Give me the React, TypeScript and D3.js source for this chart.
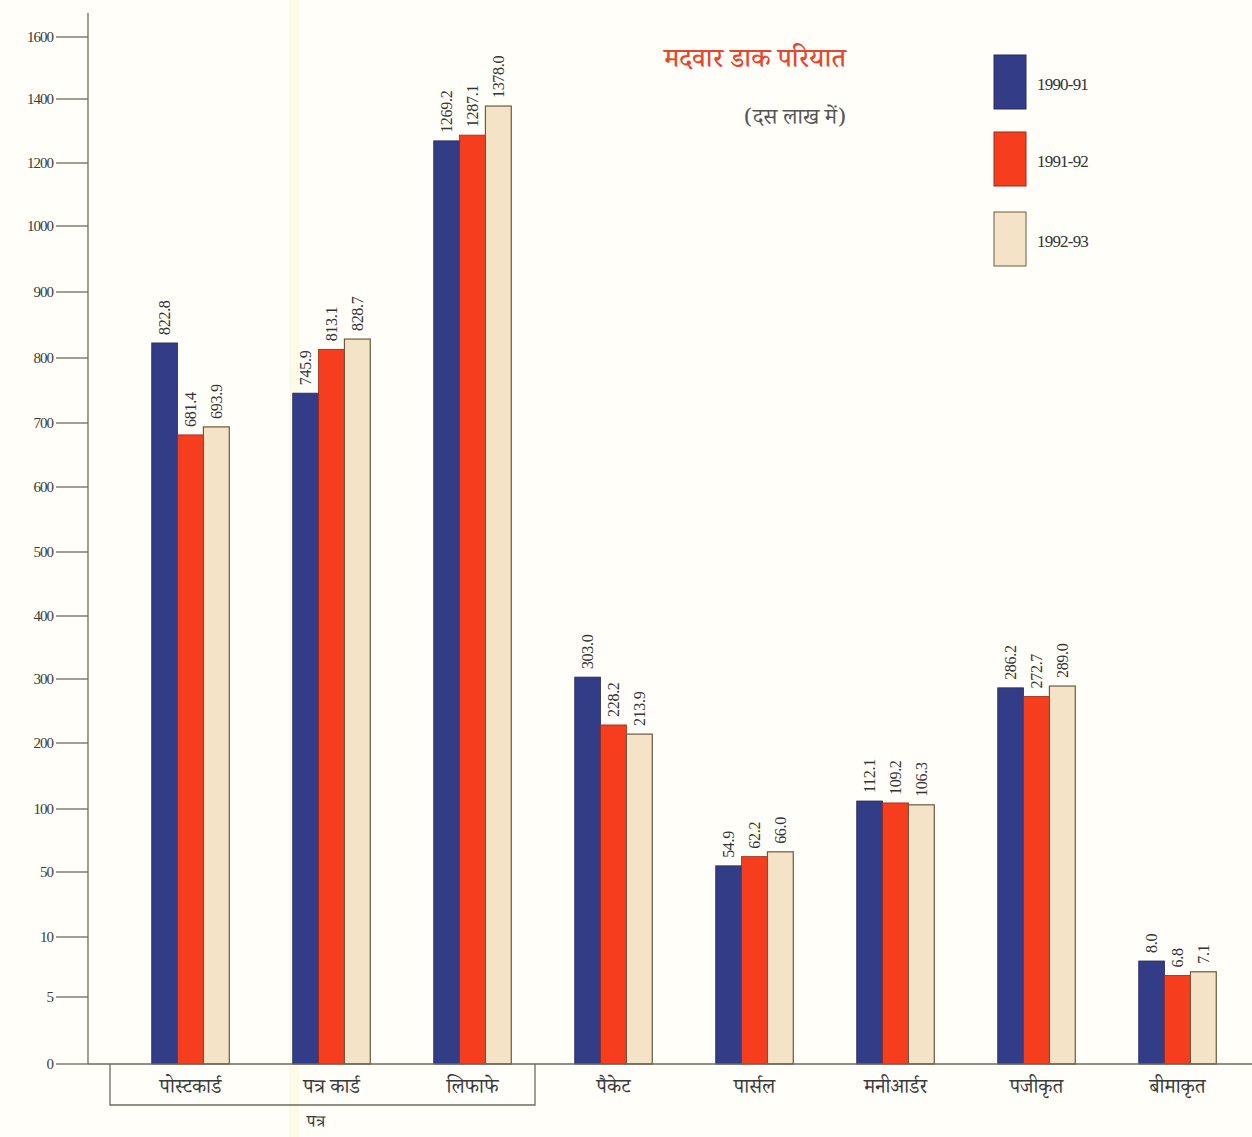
import React from "react";
import * as d3 from "d3";

// Mail traffic by category, in millions (दस लाख में)
const categories = [
  "पोस्टकार्ड",
  "पत्र कार्ड",
  "लिफाफे",
  "पैकेट",
  "पार्सल",
  "मनीआर्डर",
  "पजीकृत",
  "बीमाकृत",
];
const seriesNames = ["1990-91", "1991-92", "1992-93"];
const values1990 = [822.8, 745.9, 1269.2, 303.0, 54.9, 112.1, 286.2, 8.0];
const values1991 = [681.4, 813.1, 1287.1, 228.2, 62.2, 109.2, 272.7, 6.8];
const values1992 = [693.9, 828.7, 1378.0, 213.9, 66.0, 106.3, 289.0, 7.1];
const yTicks = [0, 5, 10, 50, 100, 200, 300, 400, 500, 600, 700, 800, 900, 1000, 1200, 1400, 1600];
const title = "मदवार डाक परियात";
const subtitle = "(दस लाख में)";
const groupLabel = "पत्र";

const W = 1252;
const H = 1137;
const colors = ["#333c86", "#f63d1d", "#f5e3c8"];
const strokes = ["#262c5e", "#9a2a18", "#6a5a40"];
const serif = "'Liberation Serif', 'DejaVu Serif', serif";
const deva = "'Noto Serif Devanagari', 'Noto Sans Devanagari', 'Lohit Devanagari', 'FreeSerif', 'Noto Sans', sans-serif";

export default function App() {
  const series = [values1990, values1991, values1992];

  // Broken (piecewise linear) value axis: equal spacing for unequal steps
  const y = d3
    .scaleLinear()
    .domain(yTicks)
    .range([1064, 997, 937, 872, 809, 743, 679, 616, 552, 487, 423, 358, 292, 226, 163, 99, 37]);

  const x0 = d3
    .scaleBand<string>()
    .domain(categories)
    .range([120, 1248])
    .paddingInner(0.45)
    .paddingOuter(0.225);
  const x1 = d3
    .scaleBand<string>()
    .domain(seriesNames)
    .range([0, x0.bandwidth()]);

  const axisX = 88;
  const base = y(0);
  const boxLeft = 110;
  const boxRight = 535;
  const boxBottom = 1105;

  return (
    <svg
      width={W}
      height={H}
      style={{ position: "absolute", left: 0, top: 0, display: "block" }}
    >
      <rect x={0} y={0} width={W} height={H} fill="#fffef9" />
      <rect x={289} y={0} width={10} height={H} fill="#fdf9e4" opacity={0.8} />

      {/* value axis */}
      <line x1={axisX} x2={axisX} y1={13} y2={base} stroke="#6b6b5e" strokeWidth={1.3} />
      {yTicks.map((t) => (
        <g key={t}>
          <line x1={56} x2={axisX} y1={y(t)} y2={y(t)} stroke="#6b6b5e" strokeWidth={1.3} />
          <text
            x={53}
            y={y(t)}
            dy="0.35em"
            textAnchor="end"
            fontFamily={serif}
            fontSize={15}
            letterSpacing={-1}
            fill="#3a3a3a"
          >
            {t}
          </text>
        </g>
      ))}

      {/* bars */}
      {categories.map((c, i) => (
        <g key={c} transform={`translate(${x0(c)},0)`}>
          {series.map((vals, s) => {
            const v = vals[i];
            const bx = x1(seriesNames[s])!;
            const bw = x1.bandwidth();
            const top = y(v);
            return (
              <g key={s}>
                <rect
                  x={bx}
                  y={top}
                  width={bw}
                  height={base - top}
                  fill={colors[s]}
                  stroke={strokes[s]}
                  strokeWidth={s === 2 ? 1.2 : 0.8}
                />
                <text
                  transform={`translate(${bx + bw / 2},${top - 8}) rotate(-90)`}
                  dy="0.35em"
                  textAnchor="start"
                  fontFamily={serif}
                  fontSize={16}
                  letterSpacing={-0.3}
                  fill="#333"
                >
                  {v.toFixed(1)}
                </text>
              </g>
            );
          })}
        </g>
      ))}

      {/* category baseline */}
      <line x1={axisX} x2={W} y1={base} y2={base} stroke="#6b6b5e" strokeWidth={1.3} />

      {/* letter-group bracket */}
      <polyline
        points={`${boxLeft},${base} ${boxLeft},${boxBottom} ${boxRight},${boxBottom} ${boxRight},${base}`}
        fill="none"
        stroke="#6b6b5e"
        strokeWidth={1.3}
      />
      {categories.map((c) => (
        <text
          key={c}
          x={x0(c)! + x0.bandwidth() / 2}
          y={1086}
          dy="0.35em"
          textAnchor="middle"
          fontFamily={deva}
          fontSize={20}
          fill="#3a3a3a"
        >
          {c}
        </text>
      ))}
      <text x={316} y={1121} dy="0.35em" textAnchor="middle" fontFamily={deva} fontSize={17} fill="#3a3a3a">
        {groupLabel}
      </text>

      {/* title */}
      <text x={755} y={58} dy="0.35em" textAnchor="middle" fontFamily={deva} fontSize={27} fontWeight={500} fill="#e8452c">
        {title}
      </text>
      <text x={795} y={116} dy="0.35em" textAnchor="middle" fontFamily={deva} fontSize={22} fill="#555">
        {subtitle}
      </text>

      {/* legend */}
      {seriesNames.map((n, s) => {
        const ly = [55, 132, 212][s];
        return (
          <g key={n}>
            <rect x={994} y={ly} width={32} height={54} fill={colors[s]} stroke={strokes[s]} strokeWidth={1} />
            <text
              x={1037}
              y={ly + 29}
              dy="0.35em"
              fontFamily={serif}
              fontSize={17}
              letterSpacing={-0.8}
              fill="#333"
            >
              {n}
            </text>
          </g>
        );
      })}
    </svg>
  );
}
